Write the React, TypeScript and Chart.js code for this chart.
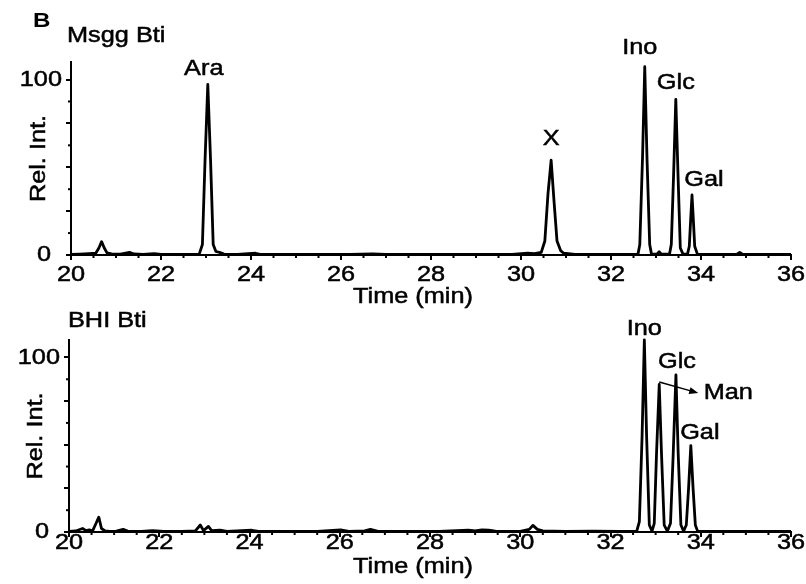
import React, { useEffect, useRef } from "react";
import { Chart, registerables } from "chart.js";

Chart.register(...registerables);

// ---------- axis definitions ----------
const X_MIN = 20;
const X_MAX = 36;
const X_MAJOR_STEP = 2;
const X_MINOR_STEP = 0.5;
const Y_MIN = 0;
const Y_MAX = 110;
const yMajorTicks = [0, 25, 50, 75, 100];
const yMinorTicks = [12.5, 37.5, 62.5, 87.5];
const yLabelValues = [0, 100];
const yLabelTexts = ["0", "100"];
const xLabelValues = [20, 22, 24, 26, 28, 30, 32, 34, 36];
const xLabelTexts = ["20", "22", "24", "26", "28", "30", "32", "34", "36"];
const xAxisTitle = "Time (min)";
const yAxisTitle = "Rel. Int.";
const panelLetter = "B";

// ---------- panel 1 : Msgg Bti ----------
const msggTitle = "Msgg Bti";
const msggTime = [
  20.0, 20.2, 20.4, 20.55, 20.62, 20.68, 20.74, 20.8, 20.9, 21.1, 21.3, 21.4, 21.6, 21.85, 22.0, 22.4,
  22.85, 22.92, 22.98, 23.04, 23.1, 23.16, 23.22, 23.3, 23.4, 23.7, 24.1, 24.2, 24.8, 25.5, 26.2, 26.7,
  27.0, 27.8, 28.5, 29.2, 29.8, 30.15, 30.3, 30.45, 30.53, 30.6, 30.67, 30.73, 30.8, 30.88, 30.95, 31.2,
  31.8, 32.4, 32.6, 32.64, 32.7, 32.75, 32.8, 32.86, 32.9, 33.02, 33.07, 33.12, 33.3, 33.34, 33.39, 33.44,
  33.49, 33.54, 33.6, 33.7, 33.74, 33.77, 33.8, 33.83, 33.86, 33.92, 34.3, 34.8, 34.86, 34.92, 35.5, 36.0,
];
const msggIntensity = [
  0.3, 0.5, 0.8, 1.0, 4, 7.6, 4, 1.2, 0.6, 0.5, 1.5, 0.6, 0.4, 0.8, 0.4, 0.4,
  0.5, 6, 55, 97.3, 55, 6, 2, 1.5, 0.5, 0.4, 1.0, 0.3, 0.4, 0.3, 0.4, 0.6,
  0.3, 0.4, 0.3, 0.4, 0.4, 1.0, 0.8, 1.5, 8, 35, 54, 32, 8, 2.5, 1.0, 0.4,
  0.3, 0.3, 0.5, 6, 55, 107.3, 55, 6, 0.5, 0.5, 1.8, 0.5, 0.5, 6, 45, 88.7,
  45, 4, 0.5, 0.5, 5, 20, 34.2, 20, 5, 0.5, 0.4, 0.5, 1.5, 0.5, 0.4, 0.3,
];
const msggPeakNames = ["Ara", "X", "Ino", "Glc", "Gal"];
const msggPeakTimes = [23.04, 30.67, 32.75, 33.44, 33.8];
const msggPeakHeights = [97.3, 54, 107.3, 88.7, 34.2];

// ---------- panel 2 : BHI Bti ----------
const bhiTitle = "BHI Bti";
const bhiTime = [
  20.0, 20.15, 20.3, 20.38, 20.45, 20.52, 20.6, 20.66, 20.72, 20.8, 20.9, 21.05, 21.2, 21.3, 21.6, 21.85,
  22.1, 22.5, 22.8, 22.91, 22.98, 23.09, 23.16, 23.35, 23.5, 24.05, 24.2, 24.8, 25.5, 26.02, 26.2, 26.55,
  26.68, 26.85, 27.5, 28.2, 28.85, 29.0, 29.15, 29.3, 29.45, 30.0, 30.2, 30.28, 30.38, 30.5, 31.0, 31.6,
  32.2, 32.58, 32.64, 32.7, 32.75, 32.8, 32.86, 32.92, 32.97, 33.02, 33.08, 33.13, 33.19, 33.26, 33.33, 33.39,
  33.45, 33.5, 33.56, 33.62, 33.68, 33.73, 33.78, 33.83, 33.88, 33.93, 34.5, 35.2, 36.0,
];
const bhiIntensity = [
  0.3, 0.6, 2, 0.8, 1.2, 0.5, 5, 8.5, 2, 0.6, 0.4, 0.5, 1.5, 0.5, 0.4, 0.8,
  0.3, 0.4, 0.6, 4, 0.8, 3.2, 0.8, 1.0, 0.4, 1.0, 0.3, 0.4, 0.3, 1.2, 0.4, 0.6,
  1.5, 0.4, 0.3, 0.4, 1.0, 0.6, 1.2, 1.0, 0.5, 0.4, 1.5, 3.8, 1.5, 0.6, 0.3, 0.5,
  0.3, 0.3, 6, 55, 110, 55, 4, 0.5, 5, 45, 84.5, 45, 4, 0.5, 5, 45,
  90, 45, 4, 0.5, 4, 25, 49.5, 25, 4, 0.5, 0.4, 0.3, 0.3,
];
const bhiPeakNames = ["Ino", "Man", "Glc", "Gal"];
const bhiPeakTimes = [32.75, 33.08, 33.45, 33.78];
const bhiPeakHeights = [110, 84.5, 90, 49.5];

// ---------- styling / layout (not data) ----------
const FONT = '"Liberation Sans", Arial, Helvetica, sans-serif';
const SX = 1.15;
const W = 806;

type LabelStyle = { dx: number; dy: number; arrow?: [number, number, number, number] };

interface PanelCfg {
  title: string;
  time: number[];
  intensity: number[];
  peakNames: string[];
  peakTimes: number[];
  peakHeights: number[];
  top: number;
  height: number;
  area: { left: number; right: number; top: number; bottom: number };
  titlePos: [number, number];
  showLetter: boolean;
  relX: number;
  xLabelDy: number;
  timeY: number;
  labelStyles: Record<string, LabelStyle>;
}

const panels: PanelCfg[] = [
  {
    title: msggTitle,
    time: msggTime,
    intensity: msggIntensity,
    peakNames: msggPeakNames,
    peakTimes: msggPeakTimes,
    peakHeights: msggPeakHeights,
    top: 0,
    height: 312,
    area: { left: 71, right: 791, top: 62, bottom: 255 },
    titlePos: [67, 36],
    showLetter: true,
    relX: 39,
    xLabelDy: 20,
    timeY: 297,
    labelStyles: {
      Ara: { dx: -4, dy: -15 },
      X: { dx: 0, dy: -21 },
      Ino: { dx: -5, dy: -19 },
      Glc: { dx: 0, dy: -16 },
      Gal: { dx: 12, dy: -15 },
    },
  },
  {
    title: bhiTitle,
    time: bhiTime,
    intensity: bhiIntensity,
    peakNames: bhiPeakNames,
    peakTimes: bhiPeakTimes,
    peakHeights: bhiPeakHeights,
    top: 292,
    height: 292,
    area: { left: 69, right: 791, top: 48, bottom: 240 },
    titlePos: [68, 29],
    showLetter: false,
    relX: 36,
    xLabelDy: 11,
    timeY: 275,
    labelStyles: {
      Ino: { dx: 0, dy: -11 },
      Man: { dx: 69, dy: 8, arrow: [0, -2.5, 39, 8.5] },
      Glc: { dx: 1, dy: -13 },
      Gal: { dx: 9, dy: -13 },
    },
  },
];

function drawText(
  ctx: CanvasRenderingContext2D,
  s: string,
  x: number,
  y: number,
  size: number,
  align: CanvasTextAlign = "center",
  bold = false,
  rotate = false
) {
  ctx.save();
  ctx.translate(x, y);
  if (rotate) ctx.rotate(-Math.PI / 2);
  ctx.scale(SX, 1);
  ctx.font = `${bold ? "bold " : ""}${size}px ${FONT}`;
  ctx.fillStyle = "#000";
  ctx.strokeStyle = "#000";
  ctx.lineWidth = 0.5;
  ctx.textAlign = align;
  ctx.textBaseline = "middle";
  ctx.fillText(s, 0, 0);
  if (!bold) ctx.strokeText(s, 0, 0);
  ctx.restore();
}

function makeChart(canvas: HTMLCanvasElement, p: PanelCfg) {
  const decor = {
    id: "decor",
    afterDraw(chart: any) {
      const ctx: CanvasRenderingContext2D = chart.ctx;
      const xs = chart.scales.x;
      const ys = chart.scales.y;
      const ca = chart.chartArea;
      // minor ticks
      ctx.save();
      ctx.strokeStyle = "#000";
      ctx.lineWidth = 2;
      for (let v = X_MIN + X_MINOR_STEP; v < X_MAX; v += X_MINOR_STEP) {
        if (Math.abs(v / X_MAJOR_STEP - Math.round(v / X_MAJOR_STEP)) < 1e-6) continue;
        const px = xs.getPixelForValue(v);
        ctx.beginPath();
        ctx.moveTo(px, ca.bottom);
        ctx.lineTo(px, ca.bottom + 3);
        ctx.stroke();
      }
      for (const v of yMinorTicks) {
        const py = ys.getPixelForValue(v);
        ctx.beginPath();
        ctx.moveTo(ca.left, py);
        ctx.lineTo(ca.left - 3, py);
        ctx.stroke();
      }
      ctx.restore();

      // tick labels
      xLabelValues.forEach((v, i) => {
        drawText(ctx, xLabelTexts[i], xs.getPixelForValue(v), ca.bottom + p.xLabelDy, 22);
      });
      yLabelValues.forEach((v, i) => {
        const py = ys.getPixelForValue(v);
        if (v === 0) drawText(ctx, yLabelTexts[i], ca.left - 27, py, 22, "center");
        else drawText(ctx, yLabelTexts[i], ca.left - 9, py, 22, "right");
      });

      // axis titles
      drawText(ctx, xAxisTitle, 413, p.timeY, 22);
      drawText(ctx, yAxisTitle, p.relX, (ca.top + ca.bottom) / 2, 22, "center", false, true);
      drawText(ctx, p.title, p.titlePos[0], p.titlePos[1], 22, "left");
      if (p.showLetter) drawText(ctx, panelLetter, 33, 21, 21, "left", true);

      // peak labels
      p.peakNames.forEach((name, i) => {
        const st = p.labelStyles[name];
        const ax = xs.getPixelForValue(p.peakTimes[i]);
        const ay = ys.getPixelForValue(p.peakHeights[i]);
        drawText(ctx, name, ax + st.dx, ay + st.dy, 22);
        if (st.arrow) {
          const [x0, y0, x1, y1] = st.arrow;
          const sx = ax + x0, sy = ay + y0, ex = ax + x1, ey = ay + y1;
          const ang = Math.atan2(ey - sy, ex - sx);
          ctx.save();
          ctx.strokeStyle = "#000";
          ctx.fillStyle = "#000";
          ctx.lineWidth = 1.5;
          ctx.beginPath();
          ctx.moveTo(sx, sy);
          ctx.lineTo(ex - 6 * Math.cos(ang), ey - 6 * Math.sin(ang));
          ctx.stroke();
          ctx.beginPath();
          ctx.moveTo(ex, ey);
          ctx.lineTo(ex - 9 * Math.cos(ang) + 3.5 * Math.sin(ang), ey - 9 * Math.sin(ang) - 3.5 * Math.cos(ang));
          ctx.lineTo(ex - 9 * Math.cos(ang) - 3.5 * Math.sin(ang), ey - 9 * Math.sin(ang) + 3.5 * Math.cos(ang));
          ctx.closePath();
          ctx.fill();
          ctx.restore();
        }
      });
    },
  };

  return new Chart(canvas, {
    type: "line",
    data: {
      datasets: [
        {
          data: p.time.map((t, i) => ({ x: t, y: p.intensity[i] })),
          borderColor: "#000",
          borderWidth: 2.8,
          pointRadius: 0,
          tension: 0,
          fill: false,
          borderJoinStyle: "round",
          clip: false as any,
        },
      ],
    },
    options: {
      responsive: false,
      animation: false,
      events: [],
      layout: {
        padding: { left: 0, top: p.area.top, right: W - p.area.right, bottom: 0 },
      },
      plugins: { legend: { display: false }, tooltip: { enabled: false }, title: { display: false } },
      scales: {
        x: {
          type: "linear",
          min: X_MIN,
          max: X_MAX,
          ticks: { display: false, stepSize: X_MAJOR_STEP },
          grid: { display: true, drawOnChartArea: false, drawTicks: true, tickLength: 5, color: "#000", lineWidth: 2 },
          border: { display: true, color: "#000", width: 2 },
          afterFit: (s: any) => {
            s.height = p.height - p.area.bottom;
          },
        },
        y: {
          type: "linear",
          min: Y_MIN,
          max: Y_MAX,
          ticks: { display: false },
          afterBuildTicks: (s: any) => {
            s.ticks = yMajorTicks.map((v) => ({ value: v }));
          },
          grid: { display: true, drawOnChartArea: false, drawTicks: true, tickLength: 5, color: "#000", lineWidth: 2 },
          border: { display: true, color: "#000", width: 2 },
          afterFit: (s: any) => {
            s.width = p.area.left;
          },
        },
      },
    },
    plugins: [decor],
  } as any);
}

export default function App() {
  const ref1 = useRef<HTMLCanvasElement | null>(null);
  const ref2 = useRef<HTMLCanvasElement | null>(null);

  useEffect(() => {
    const c1 = makeChart(ref1.current as HTMLCanvasElement, panels[0]);
    const c2 = makeChart(ref2.current as HTMLCanvasElement, panels[1]);
    return () => {
      c1.destroy();
      c2.destroy();
    };
  }, []);

  const style = (p: PanelCfg): React.CSSProperties => ({
    position: "absolute",
    left: 0,
    top: p.top,
    width: W,
    height: p.height,
    display: "block",
  });

  return (
    <div style={{ position: "absolute", left: 0, top: 0, width: W, height: 584, background: "#fff" }}>
      <canvas ref={ref1} width={W} height={panels[0].height} style={style(panels[0])} />
      <canvas ref={ref2} width={W} height={panels[1].height} style={style(panels[1])} />
    </div>
  );
}
